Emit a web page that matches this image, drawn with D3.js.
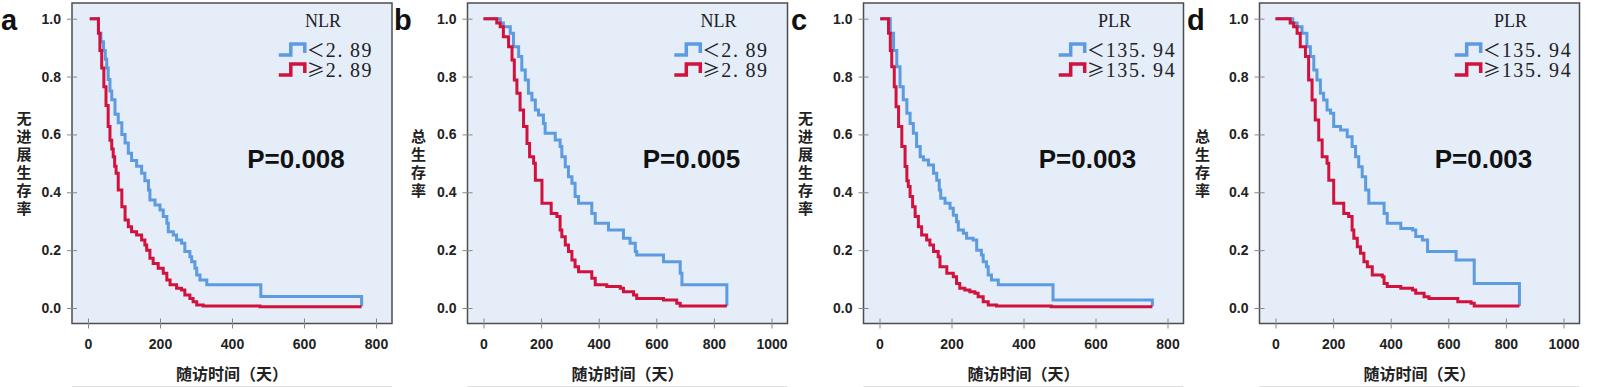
<!DOCTYPE html>
<html>
<head>
<meta charset="utf-8">
<script src="https://cdn.jsdelivr.net/npm/d3@7"></script>
<style>
  body { margin: 0; background: #fff; }
</style>
</head>
<body>
<svg id="chart" width="1600" height="387"></svg>
<script>
// Kaplan-Meier steps: [day, survival from that day on]
const pfsNlrLow = [[5,1],[29,0.95],[36,0.92],[43,0.89],[48,0.86],[52,0.83],[56,0.79],[61,0.75],[66,0.72],[75,0.67],[84,0.64],[94,0.6],[103,0.57],[112,0.535],[121,0.51],[135,0.49],[149,0.466],[158,0.44],[168,0.408],[172,0.373],[186,0.356],[200,0.339],[209,0.316],[219,0.293],[223,0.264],[237,0.252],[246,0.235],[260,0.224],[269,0.195],[283,0.177],[288,0.16],[297,0.137],[302,0.114],[311,0.097],[330,0.08],[480,0.04],[760,0.006]];
const pfsNlrHigh = [[5,1],[29,0.95],[33,0.89],[38,0.83],[44,0.765],[50,0.7],[56,0.627],[61,0.58],[66,0.55],[70,0.523],[74,0.49],[78,0.466],[84,0.408],[94,0.35],[103,0.304],[112,0.281],[121,0.264],[135,0.252],[149,0.235],[158,0.218],[163,0.2],[172,0.172],[181,0.154],[195,0.137],[209,0.12],[219,0.097],[228,0.08],[246,0.068],[260,0.062],[269,0.045],[283,0.033],[292,0.022],[302,0.01],[320,0.007],[478,0.004],[760,0.004]];

const osNlrLow = [[0,1],[58,0.985],[69,0.972],[93,0.95],[104,0.903],[122,0.869],[133,0.823],[145,0.788],[156,0.742],[168,0.719],[180,0.684],[191,0.667],[208,0.638],[214,0.604],[249,0.581],[266,0.558],[272,0.523],[284,0.488],[295,0.454],[307,0.431],[318,0.385],[330,0.362],[376,0.327],[388,0.293],[434,0.27],[486,0.241],[509,0.224],[527,0.195],[532,0.183],[625,0.16],[683,0.12],[689,0.08],[845,0.007]];
const osNlrHigh = [[0,1],[46,0.985],[58,0.972],[69,0.938],[87,0.903],[99,0.857],[107,0.788],[116,0.742],[127,0.684],[139,0.627],[151,0.569],[160,0.523],[174,0.5],[180,0.442],[203,0.362],[235,0.327],[255,0.316],[266,0.27],[272,0.246],[284,0.218],[295,0.195],[307,0.166],[318,0.143],[330,0.125],[376,0.103],[388,0.08],[428,0.074],[475,0.068],[486,0.056],[521,0.045],[532,0.033],[625,0.028],[671,0.016],[683,0.007],[845,0.007]];

const pfsPlrLow = [[2,1],[30,0.95],[39,0.89],[48,0.834],[57,0.765],[66,0.72],[76,0.673],[85,0.638],[94,0.604],[103,0.558],[113,0.523],[122,0.512],[136,0.494],[150,0.466],[159,0.442],[166,0.408],[170,0.379],[182,0.362],[196,0.345],[205,0.321],[214,0.298],[219,0.27],[233,0.258],[242,0.241],[260,0.235],[270,0.2],[283,0.183],[288,0.16],[297,0.143],[302,0.114],[311,0.097],[330,0.08],[482,0.028],[758,0.006]];
const pfsPlrHigh = [[2,1],[25,0.95],[30,0.89],[34,0.834],[41,0.765],[46,0.696],[53,0.627],[62,0.558],[71,0.489],[76,0.44],[80,0.42],[85,0.385],[92,0.35],[99,0.316],[108,0.281],[117,0.252],[131,0.235],[140,0.218],[150,0.195],[163,0.177],[168,0.143],[187,0.12],[205,0.108],[214,0.085],[223,0.068],[237,0.062],[251,0.056],[265,0.051],[274,0.039],[288,0.022],[302,0.01],[325,0.007],[477,0.004],[758,0.004]];

const osPlrLow = [[0,1],[60,0.985],[75,0.972],[92,0.95],[109,0.903],[121,0.869],[133,0.823],[144,0.788],[156,0.742],[167,0.719],[179,0.684],[191,0.673],[202,0.627],[226,0.615],[249,0.592],[266,0.558],[278,0.523],[289,0.488],[301,0.454],[313,0.408],[324,0.362],[377,0.327],[388,0.293],[435,0.275],[476,0.27],[487,0.247],[510,0.235],[528,0.195],[627,0.166],[690,0.085],[847,0.007]];
const osPlrHigh = [[0,1],[51,0.985],[63,0.972],[75,0.95],[86,0.903],[104,0.869],[115,0.788],[127,0.719],[138,0.65],[150,0.581],[162,0.523],[179,0.5],[185,0.442],[202,0.362],[237,0.327],[254,0.316],[266,0.27],[272,0.241],[284,0.212],[295,0.189],[307,0.16],[319,0.143],[336,0.114],[371,0.108],[377,0.085],[388,0.074],[435,0.068],[476,0.062],[487,0.051],[516,0.039],[533,0.033],[633,0.022],[679,0.016],[690,0.007],[847,0.007]];

const yTicks = [0, 0.2, 0.4, 0.6, 0.8, 1.0];
const xTicks800 = [0, 200, 400, 600, 800];
const xTicks1000 = [0, 200, 400, 600, 800, 1000];

const panelLetters = ['a', 'b', 'c', 'd'];
const yTitles = ['无进展生存率', '总生存率', '无进展生存率', '总生存率'];
const legendTitles = ['NLR', 'NLR', 'PLR', 'PLR'];
const cutoffs = ['2.89', '2.89', '135.94', '135.94'];
const pValues = ['P=0.008', 'P=0.005', 'P=0.003', 'P=0.003'];
const xTitle = '随访时间（天）';

const panels = [
  {left: 72,    xt: xTicks800,  low: pfsNlrLow, high: pfsNlrHigh, letterX: 1,    titleDx: -48},
  {left: 467.5, xt: xTicks1000, low: osNlrLow,  high: osNlrHigh,  letterX: 394,  titleDx: -49},
  {left: 863.5, xt: xTicks800,  low: pfsPlrLow, high: pfsPlrHigh, letterX: 791,  titleDx: -58},
  {left: 1259.5,xt: xTicks1000, low: osPlrLow,  high: osPlrHigh,  letterX: 1187, titleDx: -57}
];

const blue = '#5c9be0';
const red = '#d1123d';
const boxW = 320, boxTop = 3, boxBottom = 323.5;
const sans = '"Liberation Sans", Arial, sans-serif';
const serif = '"Liberation Serif", "Times New Roman", serif';
const cjk = '"Noto Sans CJK SC", sans-serif';

const svg = d3.select('#chart');

panels.forEach((p, i) => {
  const g = svg.append('g');
  const right = p.left + boxW;
  const x = d3.scaleLinear().domain([0, p.xt[p.xt.length - 1]]).range([p.left + 16, p.left + 304]);
  const y = d3.scaleLinear().domain([0, 1]).range([308, 18.7]);

  g.append('rect').attr('x', p.left).attr('y', boxTop).attr('width', boxW).attr('height', boxBottom - boxTop)
    .attr('fill', '#e5edf9').attr('stroke', '#4d4d4d').attr('stroke-width', 1.5);

  const ya = g.append('g').attr('transform', `translate(${p.left},0)`)
    .call(d3.axisLeft(y).tickValues(yTicks).tickFormat(d3.format('.1f')).tickSize(5).tickPadding(6));
  ya.select('.domain').remove();
  ya.selectAll('.tick line').attr('x1', 5).attr('stroke', '#888');
  ya.selectAll('text').attr('font-size', 14).attr('font-weight', 'bold').attr('font-family', sans).attr('fill', '#222');

  const xa = g.append('g').attr('transform', `translate(0,${boxBottom})`)
    .call(d3.axisBottom(x).tickValues(p.xt).tickFormat(d3.format('d')).tickSize(5).tickPadding(11));
  xa.select('.domain').remove();
  xa.selectAll('.tick line').attr('y1', -5).attr('stroke', '#888');
  xa.selectAll('text').attr('font-size', 14).attr('font-weight', 'bold').attr('font-family', sans).attr('fill', '#222');

  const line = d3.line().x(d => x(d[0])).y(d => y(d[1])).curve(d3.curveStepAfter);
  g.append('path').datum(p.low).attr('d', line).attr('fill', 'none').attr('stroke', blue).attr('stroke-width', 3);
  g.append('path').datum(p.high).attr('d', line).attr('fill', 'none').attr('stroke', red).attr('stroke-width', 3);

  // legend
  const legCx = right - 69;
  g.append('text').attr('x', legCx).attr('y', 27).attr('text-anchor', 'middle')
    .attr('font-family', serif).attr('font-size', 18).attr('fill', '#222').text(legendTitles[i]);
  const parts = cutoffs[i].split('.');
  const entries = [{sym: '＜', color: blue}, {sym: '≥', color: red}];
  const leg = g.append('g');
  let maxW = 0;
  entries.forEach((e, k) => {
    const by = 57 + k * 20;
    leg.append('path').attr('d', `M0,${by - 2}H12V${by - 13}H26V${by - 4}`)
      .attr('fill', 'none').attr('stroke', e.color).attr('stroke-width', 3.5);
    leg.append('text').attr('x', 28).attr('y', by).attr('font-family', cjk).attr('font-size', 18)
      .attr('fill', '#222').text(e.sym);
    const t = leg.append('text').attr('x', 47).attr('y', by).attr('font-family', serif)
      .attr('font-size', 20).attr('fill', '#222').attr('letter-spacing', 1.6);
    t.append('tspan').text(parts[0] + '.');
    t.append('tspan').attr('dx', 6).text(parts[1]);
    maxW = Math.max(maxW, t.node().getComputedTextLength());
  });
  leg.attr('transform', `translate(${legCx - (47 + maxW) / 2},0)`);

  g.append('text').attr('x', p.left + 224).attr('y', 168).attr('text-anchor', 'middle')
    .attr('font-family', sans).attr('font-weight', 'bold').attr('font-size', 26).attr('fill', '#111').text(pValues[i]);

  g.append('text').attr('x', p.letterX).attr('y', 30).attr('font-family', sans).attr('font-weight', 'bold')
    .attr('font-size', 29).attr('fill', '#111').text(panelLetters[i]);

  // vertical y title
  const chars = Array.from(yTitles[i]);
  const yt = g.append('text').attr('font-family', cjk).attr('font-weight', 'bold').attr('font-size', 15)
    .attr('fill', '#222').attr('text-anchor', 'middle');
  const startY = 164 - chars.length * 18 / 2 + 14;
  chars.forEach((c, k) => {
    yt.append('tspan').attr('x', p.left + p.titleDx).attr('y', startY + k * 18).text(c);
  });

  g.append('text').attr('x', p.left + boxW / 2).attr('y', 380).attr('text-anchor', 'middle')
    .attr('font-family', cjk).attr('font-weight', 'bold').attr('font-size', 16).attr('fill', '#222').text(xTitle);

  g.append('line').attr('x1', p.left).attr('x2', right).attr('y1', 386.5).attr('y2', 386.5)
    .attr('stroke', '#dcdcdc').attr('stroke-width', 1);
});
</script>
</body>
</html>
